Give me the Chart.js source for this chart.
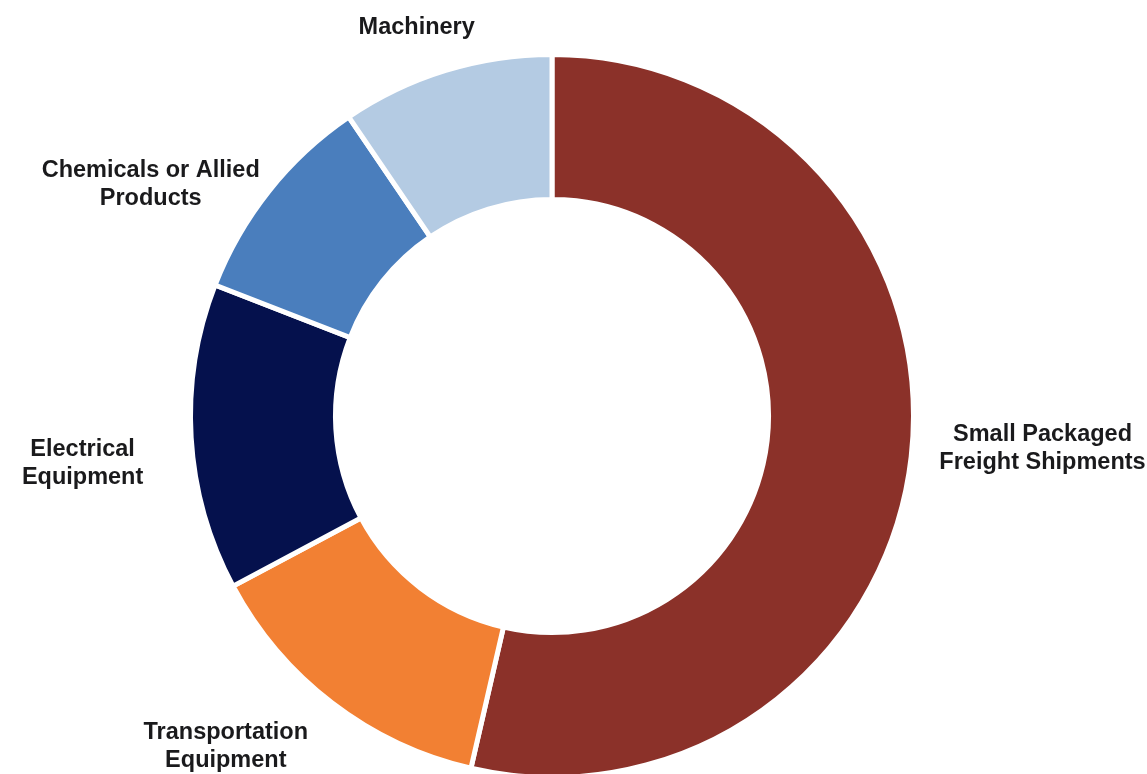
<!DOCTYPE html>
<html>
<head>
<meta charset="utf-8">
<script src="https://cdn.jsdelivr.net/npm/chart.js@4.4.1/dist/chart.umd.min.js"></script>
<style>
  html, body { margin: 0; padding: 0; background: #ffffff; }
  #wrap { width: 1147px; height: 774px; position: relative; }
</style>
</head>
<body>
<div id="wrap"><canvas id="chart" width="1147" height="774"></canvas></div>
<script>
// Shipment share by commodity group (percent of total)
const categories = [
  ['Small Packaged', 'Freight Shipments'],
  ['Transportation', 'Equipment'],
  ['Electrical', 'Equipment'],
  ['Chemicals or Allied', 'Products'],
  ['Machinery']
];
const shares = [53.6, 13.6, 13.7, 9.6, 9.5];
const sliceColors = ['#8B3129', '#F28033', '#05114D', '#4A7EBD', '#B4CBE3'];

// Fine adjustments to where each outside label sits (px)
const labelShift = [[2, -14], [-40, 0], [-21, 23], [-12, 28], [-4, -4]];

const LABEL_FONT = 'bold 23.5px "Liberation Sans", Arial, sans-serif';
const LINE_H = 28;
const LABEL_GAP = 27;

// Draws each category name outside its arc, along the arc's middle angle
const outsideLabels = {
  id: 'outsideLabels',
  afterDatasetsDraw(chart) {
    const ctx = chart.ctx;
    const meta = chart.getDatasetMeta(0);
    ctx.save();
    ctx.font = LABEL_FONT;
    ctx.fillStyle = '#1a1a1c';
    ctx.textAlign = 'center';
    ctx.textBaseline = 'middle';
    meta.data.forEach((arc, i) => {
      const p = arc.getProps(['x', 'y', 'startAngle', 'endAngle', 'outerRadius'], true);
      const mid = (p.startAngle + p.endAngle) / 2;
      const dx = Math.cos(mid), dy = Math.sin(mid);
      const lines = categories[i];
      const w = Math.max(...lines.map(t => ctx.measureText(t).width));
      const h = lines.length * LINE_H;
      const r = p.outerRadius + LABEL_GAP;
      const cx = p.x + dx * r + dx * w / 2 + labelShift[i][0];
      const cy = p.y + dy * r + dy * h / 2 + labelShift[i][1];
      lines.forEach((t, k) => {
        ctx.fillText(t, cx, cy - h / 2 + LINE_H / 2 + k * LINE_H);
      });
    });
    ctx.restore();
  }
};

new Chart(document.getElementById('chart'), {
  type: 'doughnut',
  data: {
    labels: categories.map(c => c.join(' ')),
    datasets: [{
      data: shares,
      backgroundColor: sliceColors,
      borderColor: '#ffffff',
      borderWidth: 5,
      borderJoinStyle: 'miter',
      clip: false
    }]
  },
  options: {
    responsive: false,
    animation: false,
    events: [],
    radius: 361.5,
    cutout: '59.9%',
    layout: { padding: { top: 58, bottom: 0, left: 0, right: 43 } },
    plugins: {
      legend: { display: false },
      tooltip: { enabled: false }
    }
  },
  plugins: [outsideLabels]
});
</script>
</body>
</html>
